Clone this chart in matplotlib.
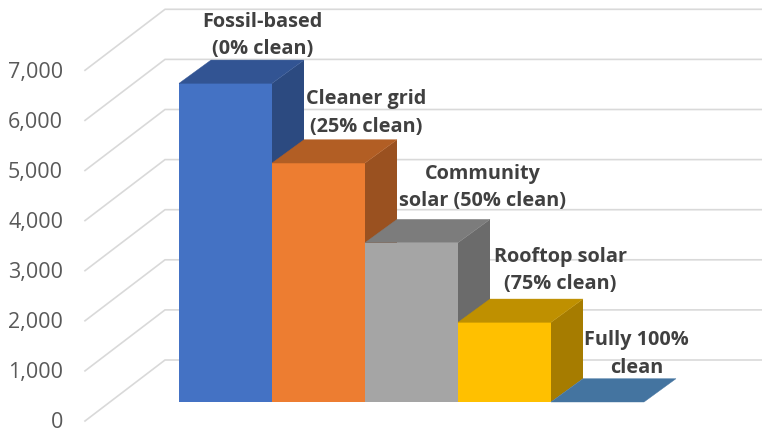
import matplotlib
matplotlib.use("Agg")
import matplotlib.pyplot as plt

# Electricity-mix scenarios and their values
categories = ["Fossil-based\n(0% clean)", "Cleaner grid\n(25% clean)",
              "Community\nsolar (50% clean)", "Rooftop solar\n(75% clean)",
              "Fully 100%\nclean"]
values = [6360, 4770, 3180, 1590, 0]
y_ticks = [0, 1000, 2000, 3000, 4000, 5000, 6000, 7000]

front_colors = ["#4472C4", "#ED7D31", "#A5A5A5", "#FFC000", "#5B9BD5"]
top_colors = ["#325493", "#B25E24", "#7C7C7C", "#BF9000", "#4474A0"]
side_colors = ["#2C4A80", "#9A5120", "#6B6B6B", "#A67C00", "#3B6489"]
label_offsets = [(37, 48), (48, 50), (71, 55), (56, 52), (39, 48)]  # px from bar top

W, H = 762, 432
PX_PER_CAT = 93.0
PX_PER_UNIT = 50.1 / 1000
LEFT_PX = 179.0
BASE_PX = 402.0

plt.rcParams["font.family"] = ["Open Sans", "DejaVu Sans"]
fig = plt.figure(figsize=(W / 100, H / 100), dpi=100)
ax = fig.add_axes([0, 0, 1, 1])
ax.set_xlim(-0.5 - LEFT_PX / PX_PER_CAT, -0.5 + (W - LEFT_PX) / PX_PER_CAT)
ax.set_ylim((BASE_PX - H) / PX_PER_UNIT, BASE_PX / PX_PER_UNIT)
ax.axis("off")

# Oblique projection: depth steps expressed in axis units
bar_dx, bar_dy = 32 / PX_PER_CAT, 23.3 / PX_PER_UNIT
wall_x = -0.5 + (165 - LEFT_PX) / PX_PER_CAT
floor_x = -0.5 + (85 - LEFT_PX) / PX_PER_CAT
wall_dy, floor_dy = 42 / PX_PER_UNIT, -19 / PX_PER_UNIT
right_x = ax.get_xlim()[1]

# Gridlines run across the floor side wall, then along the back wall
for tick in y_ticks:
    ax.plot([floor_x, wall_x, right_x],
            [tick + floor_dy, tick + wall_dy, tick + wall_dy],
            color="#D9D9D9", lw=1.2, solid_joinstyle="miter", zorder=1)
    ax.annotate(f"{tick:,}", (floor_x, tick + floor_dy), xytext=(-22, -2),
                textcoords="offset pixels", ha="right", va="center",
                color="#595959", fontsize=15.5, annotation_clip=False)

# Extruded columns, painted left to right so each one overlaps the last
for i, value in enumerate(values):
    x0, x1 = i - 0.5, i + 0.5
    if value > 0:
        ax.fill([x1, x1 + bar_dx, x1 + bar_dx, x1],
                [0, bar_dy, value + bar_dy, value],
                color=side_colors[i], lw=0, zorder=2 + i)
        ax.bar(i, value, width=1.0, color=front_colors[i], lw=0, zorder=2 + i)
    ax.fill([x0, x1, x1 + bar_dx, x0 + bar_dx],
            [value, value, value + bar_dy, value + bar_dy],
            facecolor=top_colors[i], edgecolor=top_colors[i], lw=0.3, zorder=2 + i)

# Data labels sit above and to the right of each column
for i, (label, value) in enumerate(zip(categories, values)):
    ax.annotate(label, (i, value), xytext=label_offsets[i],
                textcoords="offset pixels", ha="center", va="center",
                fontsize=14.3, fontweight="bold", color="#404040",
                linespacing=1.5, zorder=20)

fig.savefig("out.png", dpi=100, facecolor="white")
